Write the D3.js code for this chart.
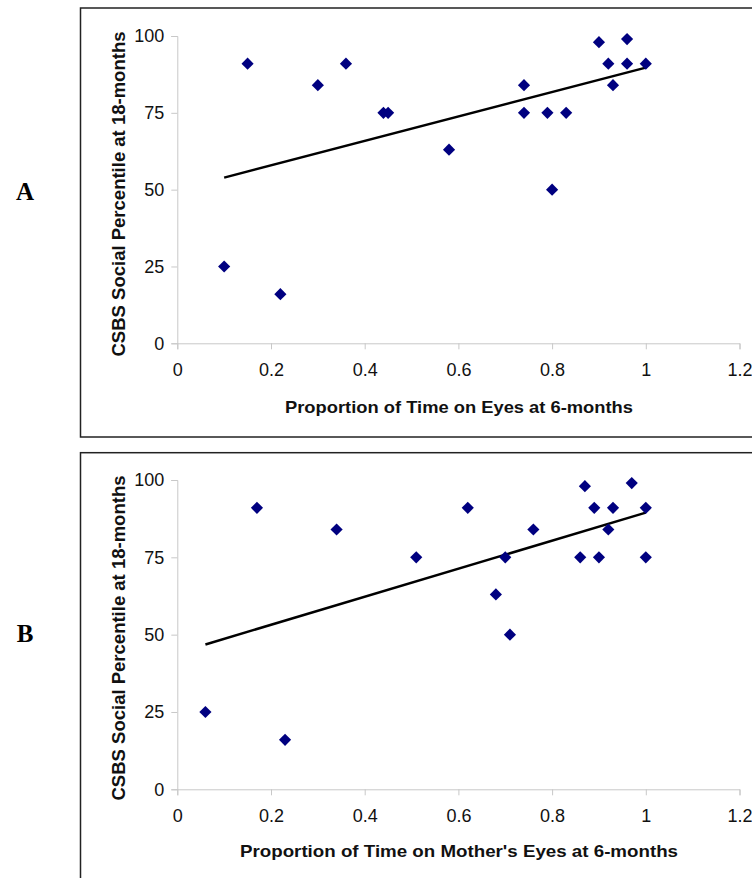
<!DOCTYPE html>
<html><head><meta charset="utf-8">
<script src="https://cdn.jsdelivr.net/npm/d3@7"></script>
<style>body{margin:0;background:#fff}svg{display:block}</style>
</head><body>
<script>
// Panel A data
const eyesA = [0.10,0.15,0.22,0.30,0.36,0.44,0.45,0.58,0.74,0.74,0.79,0.80,0.83,0.90,0.92,0.93,0.96,0.96,1.00];
const csbsA = [25,91,16,84,91,75,75,63,84,75,75,50,75,98,91,84,99,91,91];
// Panel B data
const eyesB = [0.06,0.17,0.23,0.34,0.51,0.62,0.68,0.70,0.71,0.76,0.86,0.87,0.89,0.90,0.92,0.93,0.97,1.00,1.00];
const csbsB = [25,91,16,84,75,91,63,75,50,84,75,98,91,75,84,91,99,91,75];
const xTicks = [0,0.2,0.4,0.6,0.8,1,1.2];
const yTicks = [0,25,50,75,100];
const yTitle = "CSBS Social Percentile at 18-months";
const xTitleA = "Proportion of Time on Eyes at 6-months";
const xTitleB = "Proportion of Time on Mother's Eyes at 6-months";
const panelLabels = ["A","B"];

const W = 752, H = 878;
const svg = d3.select("body").append("svg").attr("width", W).attr("height", H);

function panel(cfg){
  const g = svg.append("g");
  // frame
  g.append("rect").attr("x",80.5).attr("y",cfg.frameTop).attr("width",760).attr("height",cfg.frameH)
    .attr("fill","none").attr("stroke","#222").attr("stroke-width",1.5);
  g.append("text").attr("x",25).attr("y",cfg.labelY).text(cfg.label)
    .attr("font-family","'Liberation Serif','Times New Roman',serif").attr("font-weight","bold")
    .attr("font-size",25).attr("text-anchor","middle").attr("dominant-baseline","central").attr("fill","#000");

  const x = d3.scaleLinear().domain([0,1.2]).range([177.3, 739.5]);
  const y = d3.scaleLinear().domain([0,100]).range([cfg.y0, cfg.y100]);

  const font = "'Liberation Sans',Arial,sans-serif";
  // y axis
  const ya = g.append("g").attr("transform",`translate(${x(0)},0)`)
    .call(d3.axisLeft(y).tickValues(yTicks).tickSize(6).tickPadding(7).tickFormat(d3.format("d")));
  ya.select(".domain").attr("stroke","#c8c8c8");
  ya.selectAll(".tick line").attr("stroke","#c8c8c8");
  ya.selectAll(".tick text").attr("font-family",font).attr("font-size",18).attr("fill","#111");
  // x axis
  const xa = g.append("g").attr("transform",`translate(0,${y(0)})`)
    .call(d3.axisBottom(x).tickValues(xTicks).tickSize(6).tickPadding(14).tickFormat(d=>String(d)));
  xa.select(".domain").attr("stroke","#c8c8c8");
  xa.selectAll(".tick line").attr("stroke","#c8c8c8");
  xa.selectAll(".tick text").attr("font-family",font).attr("font-size",18).attr("fill","#111");

  // titles
  g.append("text").attr("x",459).attr("y",cfg.xTitleY).text(cfg.xTitle)
    .attr("textLength",cfg.xTitleLen).attr("lengthAdjust","spacingAndGlyphs")
    .attr("font-family",font).attr("font-weight","bold").attr("font-size",17)
    .attr("text-anchor","middle").attr("dominant-baseline","central").attr("fill","#111");
  g.append("text").attr("transform",`translate(119,${cfg.yTitleC}) rotate(-90)`).text(yTitle)
    .attr("textLength",325).attr("lengthAdjust","spacingAndGlyphs")
    .attr("font-family",font).attr("font-weight","bold").attr("font-size",18)
    .attr("text-anchor","middle").attr("dominant-baseline","central").attr("fill","#111");

  // regression line
  const xs = cfg.xs, ys = cfg.ys;
  const mx = d3.mean(xs), my = d3.mean(ys);
  let sxy=0, sxx=0;
  xs.forEach((v,i)=>{ sxy += (v-mx)*(ys[i]-my); sxx += (v-mx)*(v-mx); });
  const b = sxy/sxx, a = my - b*mx;
  const [x1,x2] = d3.extent(xs);
  g.append("path").attr("d", d3.line().x(d=>x(d[0])).y(d=>y(d[1]))([[x1,a+b*x1],[x2,a+b*x2]]))
    .attr("stroke","#000").attr("stroke-width",2.5).attr("fill","none");

  // points
  const sym = d3.symbol(d3.symbolSquare, 74);
  g.selectAll("path.pt").data(xs.map((v,i)=>[v,ys[i]])).join("path").attr("class","pt")
    .attr("d", sym).attr("transform", d=>`translate(${x(d[0])},${y(d[1])}) rotate(45)`)
    .attr("fill","#000080");
}

panel({frameTop:8, frameH:429, label:panelLabels[0], labelY:191, y0:343.3, y100:36,
       xTitle:xTitleA, xTitleLen:348, xTitleY:407, yTitleC:194, xs:eyesA, ys:csbsA});
panel({frameTop:452.7, frameH:440, label:panelLabels[1], labelY:633, y0:789.3, y100:480,
       xTitle:xTitleB, xTitleLen:438, xTitleY:851, yTitleC:638, xs:eyesB, ys:csbsB});
</script>
</body></html>
